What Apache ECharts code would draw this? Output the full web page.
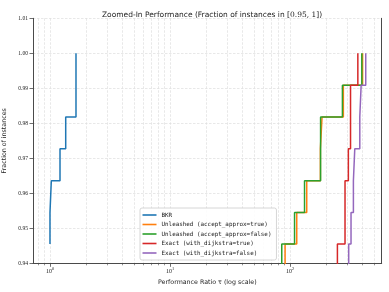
<!DOCTYPE html>
<html><head><meta charset="utf-8">
<script src="https://cdn.jsdelivr.net/npm/echarts@6/dist/echarts.min.js"></script>
<style>html,body{margin:0;padding:0;background:#fff}#c{width:389px;height:292px}</style>
</head><body><div id="c"></div>
<script>
// ---- data (performance ratio tau, fraction of instances) ----
const seriesNames = ['BKR', 'Unleashed (accept_approx=true)', 'Unleashed (accept_approx=false)', 'Exact (with_dijkstra=true)', 'Exact (with_dijkstra=false)'];
const seriesColors = ['#1f77b4', '#ff7f0e', '#2ca02c', '#d62728', '#9467bd'];

const bkrRatio = [1.0, 1.0, 1.026, 1.212, 1.352, 1.647];
const bkrFrac  = [0.9455, 0.9545, 0.9636, 0.9727, 0.9818, 1.0];

const unlTrueRatio = [80, 90.9, 113.7, 137.7, 178.9, 184.7, 278, 402];
const unlTrueFrac  = [0.9364, 0.9455, 0.9545, 0.9636, 0.9727, 0.9818, 0.9909, 1.0];

const unlFalseRatio = [75, 85.3, 109, 132, 179.6, 273, 396];
const unlFalseFrac  = [0.9364, 0.9455, 0.9545, 0.9636, 0.9818, 0.9909, 1.0];

const exactTrueRatio = [230, 248, 287, 306, 319, 367];
const exactTrueFrac  = [0.9364, 0.9455, 0.9636, 0.9727, 0.9909, 1.0];

const exactFalseRatio = [290, 308, 322, 337, 346, 381, 391, 427];
const exactFalseFrac  = [0.9364, 0.9455, 0.9545, 0.9636, 0.9727, 0.9818, 0.9909, 1.0];

const yTicks = [0.94, 0.95, 0.96, 0.97, 0.98, 0.99, 1.00, 1.01];
const xMajorTicks = [1, 10, 100];
const xMinorTicks = [0.8, 0.9, 2, 3, 4, 5, 6, 7, 8, 9, 20, 30, 40, 50, 60, 70, 80, 90, 200, 300, 400, 500];
const xRange = [0.722, 580];

// ---- build ----
const L = Math.log10;
const allRatios = [bkrRatio, unlTrueRatio, unlFalseRatio, exactTrueRatio, exactFalseRatio];
const allFracs = [bkrFrac, unlTrueFrac, unlFalseFrac, exactTrueFrac, exactFalseFrac];

const series = seriesNames.map((name, i) => ({
  name: name,
  type: 'line',
  step: 'end',
  xAxisIndex: 0, yAxisIndex: 0,
  symbol: 'none', showSymbol: false,
  clip: true,
  lineStyle: { color: seriesColors[i], width: 1.5 },
  itemStyle: { color: seriesColors[i] },
  data: allRatios[i].map((r, k) => [L(r), allFracs[i][k]]),
  z: 3 + i
}));

const gridLine = { show: true, lineStyle: { color: '#dedede', width: 0.7, type: [2.5, 1.5] } };
const spine = { show: true, onZero: false, lineStyle: { color: '#4a4a4a', width: 1 } };

const chart = echarts.init(document.getElementById('c'), null, { renderer: 'canvas' });
chart.setOption({
  animation: false,
  backgroundColor: '#fff',
  title: {
    text: '{t|Zoomed-In Performance (Fraction of instances in }{m|[0.95, 1]}{t|)}',
    left: 207, top: 6, textAlign: 'center',
    textStyle: {
      fontWeight: 'normal',
      rich: {
        t: { fontFamily: 'DejaVu Sans', fontSize: 7.5, fontWeight: 'normal', color: '#222' },
        m: { fontFamily: 'DejaVu Serif', fontSize: 7.5, fontWeight: 'normal', color: '#222' }
      }
    }
  },
  grid: { left: 33, right: 7.3, top: 18.3, bottom: 28.7, containLabel: false, outerBoundsMode: 'none' },
  legend: {
    orient: 'vertical',
    left: 140, top: 208,
    data: seriesNames,
    icon: 'rect',
    itemWidth: 14, itemHeight: 1.6, itemGap: 2.5,
    padding: [3.5, 5, 3.5, 2.5],
    backgroundColor: 'rgba(255,255,255,0.85)',
    borderColor: '#cccccc', borderWidth: 0.8, borderRadius: 2,
    textStyle: { fontFamily: 'DejaVu Sans Mono', fontSize: 5.9, lineHeight: 7, color: '#222' }
  },
  xAxis: [
    {
      type: 'value', position: 'bottom',
      min: L(xRange[0]), max: L(xRange[1]),
      axisLine: spine,
      axisTick: { show: true, length: 3.5, lineStyle: { color: '#4a4a4a', width: 0.8 }, customValues: xMajorTicks.map(L) },
      axisLabel: {
        customValues: xMajorTicks.map(L), margin: 4,
        formatter: v => '{b|10}{s|' + Math.round(v) + '}',
        rich: {
          b: { fontFamily: 'Liberation Serif', fontSize: 6, color: '#222' },
          s: { fontFamily: 'Liberation Serif', fontSize: 4.3, color: '#222', padding: [0, 0, 4, 0] }
        }
      },
      splitLine: gridLine,
      name: 'Performance Ratio \u03c4 (log scale)',
      nameLocation: 'middle', nameGap: 12,
      nameTextStyle: { fontFamily: 'DejaVu Sans', fontSize: 6.3, color: '#222' }
    },
    {
      type: 'value', position: 'bottom',
      min: L(xRange[0]), max: L(xRange[1]),
      axisLine: { show: false, onZero: false },
      axisTick: { show: true, length: 2, lineStyle: { color: '#4a4a4a', width: 0.6 }, customValues: xMinorTicks.map(L) },
      axisLabel: { show: false },
      splitLine: gridLine
    }
  ],
  yAxis: [
    {
      type: 'value', position: 'left',
      min: yTicks[0], max: yTicks[yTicks.length - 1], interval: 0.01,
      axisLine: spine,
      axisTick: { show: true, length: 3.5, lineStyle: { color: '#4a4a4a', width: 0.8 } },
      axisLabel: {
        margin: 5, formatter: v => v.toFixed(2),
        fontFamily: 'Liberation Serif', fontSize: 5.6, color: '#222'
      },
      splitLine: gridLine,
      name: 'Fraction of instances',
      nameLocation: 'middle', nameGap: 17, nameRotate: 90,
      nameTextStyle: { fontFamily: 'DejaVu Sans', fontSize: 6.3, color: '#222' }
    },
    {
      type: 'value', position: 'right',
      min: yTicks[0], max: yTicks[yTicks.length - 1],
      axisLine: spine, axisTick: { show: false }, axisLabel: { show: false }, splitLine: { show: false }
    }
  ],
  series: series
});
</script>
</body></html>
